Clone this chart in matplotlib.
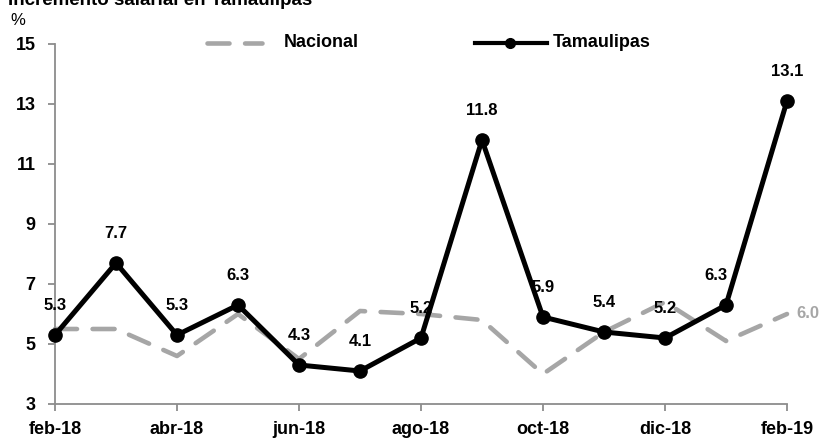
import matplotlib
matplotlib.use("Agg")
import matplotlib.pyplot as plt
from matplotlib.lines import Line2D

plt.rcParams["font.family"] = ["Liberation Sans", "DejaVu Sans"]
plt.rcParams["font.weight"] = "bold"
SIZE = 13
LABEL_SIZE = 12

# Monthly series, feb-18 .. feb-19
months = ["feb-18", "mar-18", "abr-18", "may-18", "jun-18", "jul-18", "ago-18",
          "sep-18", "oct-18", "nov-18", "dic-18", "ene-19", "feb-19"]
tamaulipas = [5.3, 7.7, 5.3, 6.3, 4.3, 4.1, 5.2, 11.8, 5.9, 5.4, 5.2, 6.3, 13.1]
nacional = [5.5, 5.5, 4.6, 6.0, 4.5, 6.1, 6.0, 5.8, 4.0, 5.4, 6.4, 5.1, 6.0]

yticks = [3, 5, 7, 9, 11, 13, 15]
xtick_labels = months[::2]

GRAY = "#a6a6a6"
AXIS_GRAY = "#8c8c8c"

fig = plt.figure(figsize=(8.2, 4.43), dpi=100)
ax = fig.add_axes([55 / 820, 1 - 404 / 443, (787 - 55) / 820, (404 - 44) / 443])

x = list(range(len(months)))

ax.plot(x, nacional, color=GRAY, lw=3.3, dashes=(4.8, 3.4),
        dash_capstyle="round", clip_on=False, zorder=2)
ax.plot(x, tamaulipas, color="black", lw=3.6, marker="o", markersize=9.5,
        clip_on=False, zorder=3)

# Value labels above the Tamaulipas points
for i, v in enumerate(tamaulipas):
    dx = -7 if i == 11 else 0
    ax.annotate(f"{v:.1f}", (i, v), xytext=(dx, 21), textcoords="offset points",
                ha="center", va="center", fontsize=LABEL_SIZE, fontweight="bold",
                color="black", zorder=4)

# Last national value
ax.annotate(f"{nacional[-1]:.1f}", (x[-1], nacional[-1]), xytext=(7, 0),
            textcoords="offset points", ha="left", va="center",
            fontsize=LABEL_SIZE, fontweight="bold", color=GRAY,
            annotation_clip=False)

ax.set_xlim(0, len(months) - 1)
ax.set_ylim(3, 15)
ax.set_yticks(yticks)
ax.set_yticklabels([str(t) for t in yticks])
ax.set_xticks(x[::2])
ax.set_xticklabels(xtick_labels)

for side in ("top", "right"):
    ax.spines[side].set_visible(False)
for side in ("left", "bottom"):
    ax.spines[side].set_color(AXIS_GRAY)
    ax.spines[side].set_linewidth(1.3)

ax.tick_params(axis="both", direction="out", length=5, width=1.3,
               color=AXIS_GRAY, labelsize=SIZE, labelcolor="black")
ax.tick_params(axis="y", pad=9)
ax.tick_params(axis="x", pad=7)
for lab in ax.get_xticklabels() + ax.get_yticklabels():
    lab.set_fontweight("bold")

# Title and unit
fig.text(8 / 820, 1 - 5 / 443, "Incremento salarial en Tamaulipas",
         ha="left", va="baseline", fontsize=13.5, fontweight="bold")
fig.text(10 / 820, 1 - 25 / 443, "%", ha="left", va="baseline",
         fontsize=12, fontweight="normal")

# Legend drawn in figure coordinates
ly = 1 - 42.5 / 443
fig.add_artist(Line2D([207 / 820, 262 / 820], [ly, ly], color=GRAY, lw=3.3,
                      dashes=(4.8, 3.4), dash_capstyle="round",
                      transform=fig.transFigure))
fig.text(284 / 820, ly, "Nacional", ha="left", va="center", fontsize=SIZE,
         fontweight="bold")
fig.add_artist(Line2D([475 / 820, 547 / 820], [ly, ly], color="black", lw=3.0,
                      transform=fig.transFigure))
fig.add_artist(Line2D([510 / 820], [ly], color="black", marker="o",
                      markersize=7, transform=fig.transFigure))
fig.text(553 / 820, ly, "Tamaulipas", ha="left", va="center", fontsize=SIZE,
         fontweight="bold")

fig.savefig("out.png", dpi=100)
